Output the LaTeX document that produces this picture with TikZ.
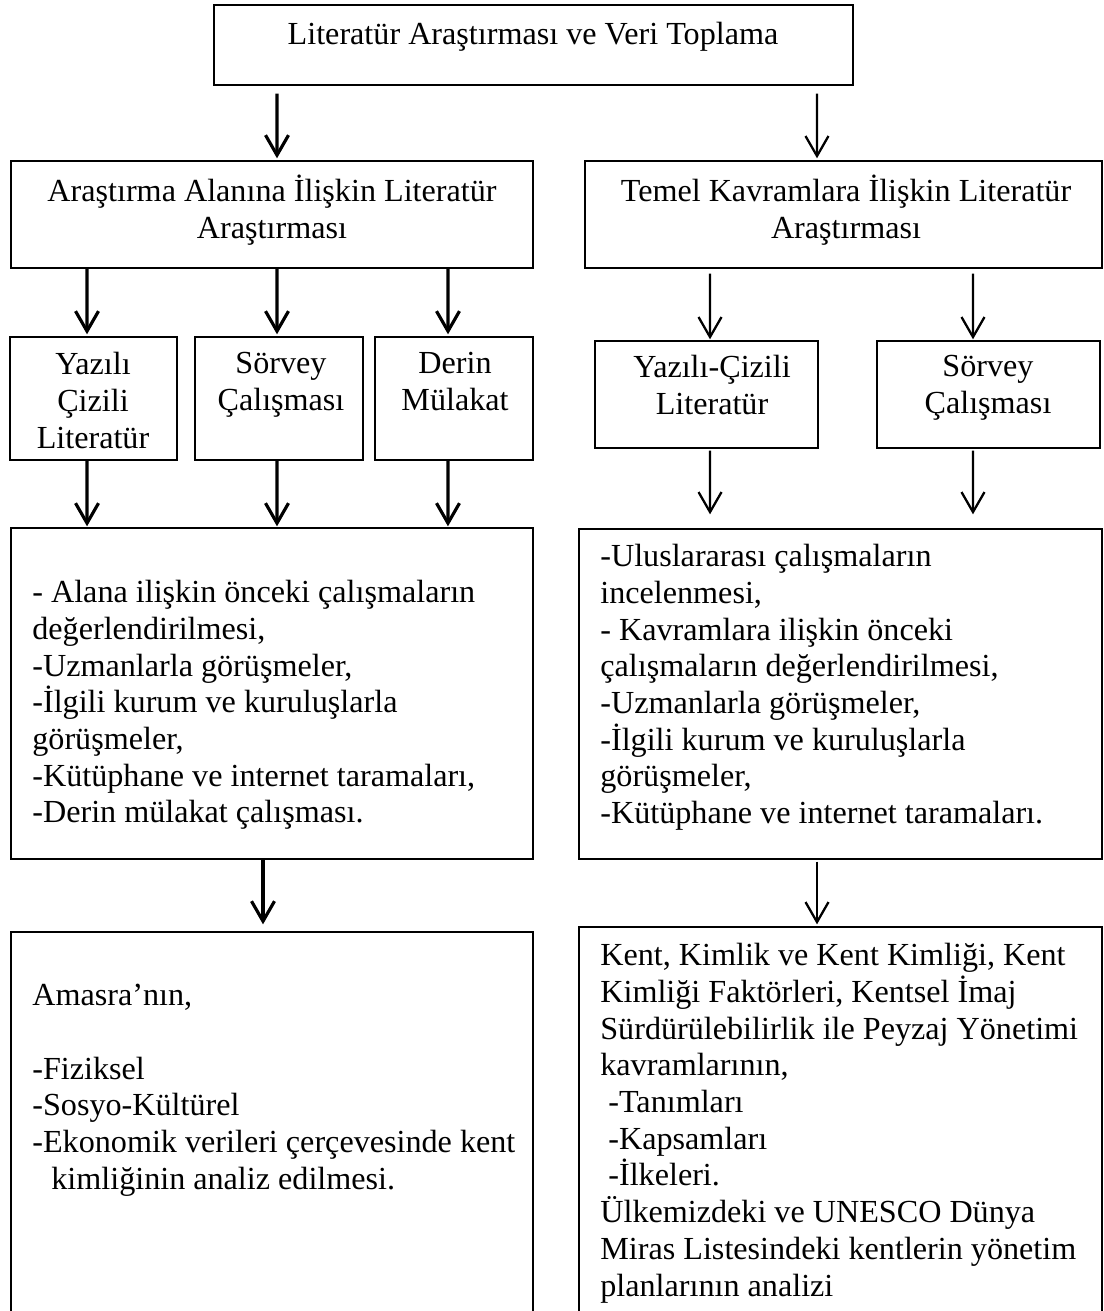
\documentclass[tikz,border=0pt]{standalone}
\usepackage{fontspec}
\setmainfont{Liberation Serif}
\usepackage{tikz}
\usetikzlibrary{arrows.meta}

\begin{document}
\begin{tikzpicture}[x=0.02cm, y=-0.02cm,
	box/.style={draw, line width=0.8pt, inner sep=0pt},
	txt/.style={inner sep=0pt, font=\fontsize{18.3}{20.9}\selectfont, execute at begin node=\strut},
	arr/.style={-{Straight Barb[length=0.4cm, width=0.46cm]}, line width=1.8pt},
	arrthin/.style={arr, line width=1.3pt}]
	\clip (0,0) rectangle (1104,1311);

	\node[box, minimum width=12.78cm, minimum height=1.6cm] (top) at (533.5,45) {};
	\node[box, minimum width=10.44cm, minimum height=2.14cm] (lalan) at (272,214.5) {};
	\node[box, minimum width=10.34cm, minimum height=2.14cm] (ralan) at (843.5,214.5) {};
	\node[box, minimum width=3.34cm, minimum height=2.46cm] (yazili) at (93.5,398.5) {};
	\node[box, minimum width=3.36cm, minimum height=2.46cm] (sorvey) at (279,398.5) {};
	\node[box, minimum width=3.16cm, minimum height=2.46cm] (derin) at (454,398.5) {};
	\node[box, minimum width=4.46cm, minimum height=2.14cm] (ryazili) at (706.5,394.5) {};
	\node[box, minimum width=4.46cm, minimum height=2.14cm] (rsorvey) at (988.5,394.5) {};
	\node[box, minimum width=10.44cm, minimum height=6.62cm] (lbig) at (272,693.5) {};
	\node[box, minimum width=10.46cm, minimum height=6.6cm] (rbig) at (840.5,694) {};
	\node[box, minimum width=10.44cm, minimum height=8.16cm] (lson) at (272,1136) {};
	\node[box, minimum width=10.46cm, minimum height=8.26cm] (rson) at (840.5,1133.5) {};

	\node[txt, anchor=base] at (533,45) {Literatür Araştırması ve Veri Toplama};
	\node[txt, align=center, anchor=north] at (272,175) {Araştırma Alanına İlişkin Literatür\\Araştırması};
	\node[txt, align=center, anchor=north] at (846,175) {Temel Kavramlara İlişkin Literatür\\Araştırması};
	\node[txt, align=center, anchor=north] at (93,352) {Yazılı\\Çizili\\Literatür};
	\node[txt, align=center, anchor=north] at (281,352) {Sörvey\\Çalışması};
	\node[txt, align=center, anchor=north] at (455,352) {Derin\\Mülakat};
	\node[txt, align=center, anchor=north] at (712,355) {Yazılı-Çizili\\Literatür};
	\node[txt, align=center, anchor=north] at (988,355) {Sörvey\\Çalışması};
	\node[txt, align=left, anchor=north west] at (32,580) {- Alana ilişkin önceki çalışmaların\\değerlendirilmesi,\\-Uzmanlarla görüşmeler,\\-İlgili kurum ve kuruluşlarla\\görüşmeler,\\-Kütüphane ve internet taramaları,\\-Derin mülakat çalışması.};
	\node[txt, align=left, anchor=north west] at (600,544) {-Uluslararası çalışmaların\\incelenmesi,\\- Kavramlara ilişkin önceki\\çalışmaların değerlendirilmesi,\\-Uzmanlarla görüşmeler,\\-İlgili kurum ve kuruluşlarla\\görüşmeler,\\-Kütüphane ve internet taramaları.};
	\node[txt, align=left, anchor=north west] at (32,984) {Amasra’nın,\\[20.9pt]-Fiziksel\\-Sosyo-Kültürel\\-Ekonomik verileri çerçevesinde kent\\\hspace*{0.38cm}kimliğinin analiz edilmesi.};
	\node[txt, align=left, anchor=north west] at (600,943) {Kent, Kimlik ve Kent Kimliği, Kent\\Kimliği Faktörleri, Kentsel İmaj\\Sürdürülebilirlik ile Peyzaj Yönetimi\\kavramlarının,\\\hspace*{0.16cm}-Tanımları\\\hspace*{0.16cm}-Kapsamları\\\hspace*{0.16cm}-İlkeleri.\\Ülkemizdeki ve UNESCO Dünya\\Miras Listesindeki kentlerin yönetim\\planlarının analizi};

	\draw[arr, shorten <=0.16cm, shorten >=0.04cm] ([xshift=-5.13cm]top.south) -- ([xshift=0.1cm]lalan.north);
	\draw[arrthin, shorten <=0.16cm, shorten >=0.04cm] ([xshift=5.67cm]top.south) -- ([xshift=-0.53cm]ralan.north);
	\draw[arr, shorten >=0.04cm] ([xshift=-3.7cm]lalan.south) -- ([xshift=-0.13cm]yazili.north);
	\draw[arr, shorten >=0.04cm] ([xshift=0.1cm]lalan.south) -- ([xshift=-0.04cm]sorvey.north);
	\draw[arr, shorten >=0.04cm] ([xshift=3.52cm]lalan.south) -- ([xshift=-0.12cm]derin.north);
	\draw[arrthin, shorten <=0.1cm, shorten >=0.02cm] ([xshift=-2.67cm]ralan.south) -- ([xshift=0.07cm]ryazili.north);
	\draw[arrthin, shorten <=0.1cm, shorten >=0.02cm] ([xshift=2.59cm]ralan.south) -- ([xshift=-0.31cm]rsorvey.north);
	\draw[arr, shorten >=0.02cm] ([xshift=-0.13cm]yazili.south) -- ([xshift=-3.7cm]lbig.north);
	\draw[arr, shorten >=0.02cm] ([xshift=-0.04cm]sorvey.south) -- ([xshift=0.1cm]lbig.north);
	\draw[arr, shorten >=0.02cm] ([xshift=-0.12cm]derin.south) -- ([xshift=3.52cm]lbig.north);
	\draw[arrthin, shorten <=0.04cm, shorten >=0.28cm] ([xshift=0.07cm]ryazili.south) -- ([xshift=-2.61cm]rbig.north);
	\draw[arrthin, shorten <=0.04cm, shorten >=0.28cm] ([xshift=-0.31cm]rsorvey.south) -- ([xshift=2.65cm]rbig.north);
	\draw[arr, shorten >=0.14cm] ([xshift=-0.18cm]lbig.south) -- ([xshift=-0.18cm]lson.north);
	\draw[arrthin, shorten <=0.04cm, shorten >=0.04cm] ([xshift=-0.47cm]rbig.south) -- ([xshift=-0.47cm]rson.north);
\end{tikzpicture}
\end{document}
